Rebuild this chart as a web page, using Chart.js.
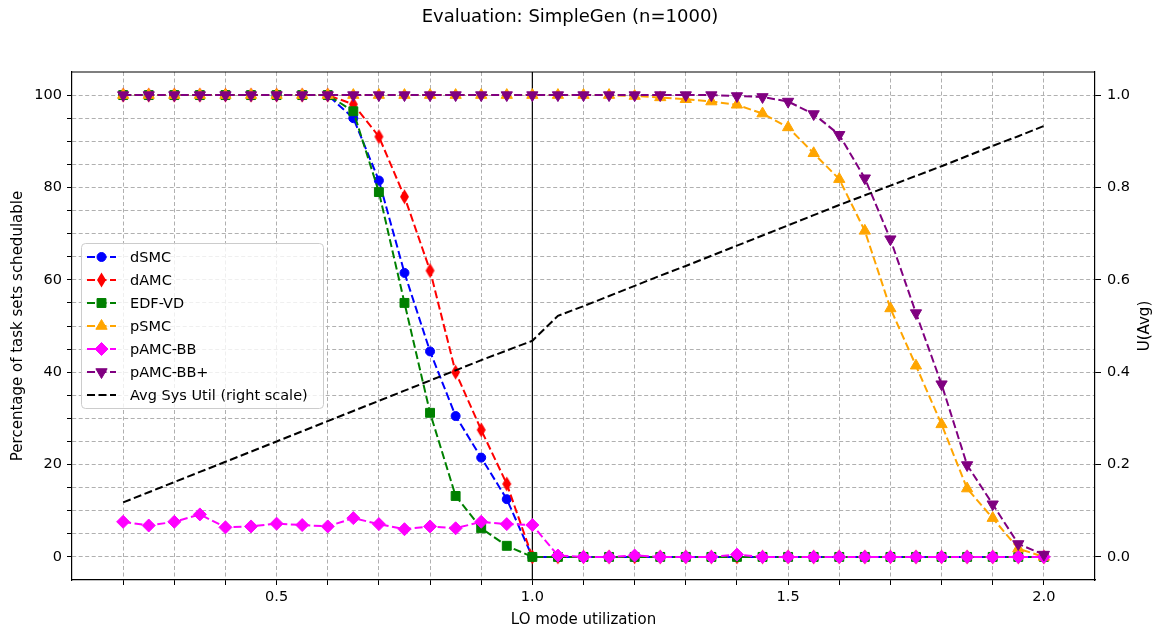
<!DOCTYPE html>
<html>
<head>
<meta charset="utf-8">
<title>Evaluation: SimpleGen (n=1000)</title>
<script src="https://cdn.jsdelivr.net/npm/chart.js@4.4.1/dist/chart.umd.min.js"></script>
<style>
  body { margin: 0; background: #fff; }
  canvas { display: block; }
</style>
</head>
<body>
<canvas id="evalChart" width="1165" height="636"></canvas>
<script>
// === Data ===
const utilization = [0.2, 0.25, 0.3, 0.35, 0.4, 0.45, 0.5, 0.55, 0.6, 0.65, 0.7, 0.75, 0.8, 0.85, 0.9, 0.95, 1.0,
  1.05, 1.1, 1.15, 1.2, 1.25, 1.3, 1.35, 1.4, 1.45, 1.5, 1.55, 1.6, 1.65, 1.7, 1.75, 1.8, 1.85, 1.9, 1.95, 2.0];

const dSMC = [100, 100, 100, 100, 100, 100, 100, 100, 100, 95, 81.5, 61.5, 44.5, 30.5, 21.5, 12.5, 0,
  0, 0, 0, 0, 0, 0, 0, 0, 0, 0, 0, 0, 0, 0, 0, 0, 0, 0, 0, 0];
const dAMC = [100, 100, 100, 100, 100, 100, 100, 100, 100, 98, 91, 78, 62, 40, 27.5, 15.8, 0,
  0, 0, 0, 0, 0, 0, 0, 0, 0, 0, 0, 0, 0, 0, 0, 0, 0, 0, 0, 0];
const edfVD = [100, 100, 100, 100, 100, 100, 100, 100, 100, 96.5, 79, 55, 31.2, 13.2, 6.2, 2.4, 0,
  0, 0, 0, 0, 0, 0, 0, 0, 0, 0, 0, 0, 0, 0, 0, 0, 0, 0, 0, 0];
const pSMC = [100, 100, 100, 100, 100, 100, 100, 100, 100, 100, 100, 100, 100, 100, 100, 100, 100,
  100, 100, 100, 99.8, 99.5, 99.1, 98.6, 97.9, 96, 93, 87.4, 81.8, 70.6, 53.8, 41.4, 28.7, 14.8, 8.4, 1.8, 0];
const pAMCBB = [7.6, 6.8, 7.6, 9.2, 6.4, 6.6, 7.2, 6.9, 6.6, 8.4, 7.1, 6.0, 6.6, 6.2, 7.6, 7.1, 6.9,
  0.3, 0, 0, 0.3, 0, 0, 0, 0.5, 0, 0, 0, 0, 0, 0, 0, 0, 0, 0, 0, 0];
const pAMCBBplus = [100, 100, 100, 100, 100, 100, 100, 100, 100, 100, 100, 100, 100, 100, 100, 100, 100,
  100, 100, 100, 100, 100, 100, 100, 99.8, 99.6, 98.6, 95.9, 91.4, 82, 68.8, 52.8, 37.4, 19.9, 11.4, 2.8, 0.5];
// average system utilisation, right scale
const avgUtil = [0.118, 0.140, 0.162, 0.184, 0.206, 0.228, 0.250, 0.272, 0.294, 0.316, 0.338, 0.360, 0.382,
  0.404, 0.426, 0.447, 0.468, 0.522, 0.543, 0.565, 0.587, 0.609, 0.630, 0.652, 0.674, 0.696, 0.718, 0.740,
  0.762, 0.783, 0.804, 0.825, 0.846, 0.868, 0.890, 0.911, 0.933];

const xTicks = [0.2, 0.3, 0.4, 0.5, 0.6, 0.7, 0.8, 0.9, 1.0, 1.1, 1.2, 1.3, 1.4, 1.5, 1.6, 1.7, 1.8, 1.9, 2.0];
const xLabelled = [0.5, 1.0, 1.5, 2.0];
const yTicks = [0, 5, 10, 15, 20, 25, 30, 35, 40, 45, 50, 55, 60, 65, 70, 75, 80, 85, 90, 95, 100];
const yLabelled = [0, 20, 40, 60, 80, 100];
const y1Ticks = [0, 0.2, 0.4, 0.6, 0.8, 1.0];
const cutoff = 1.0;

const FONT = 'DejaVu Sans';
const DASH = [8, 3.5];

// thin diamond marker (not built into Chart.js)
function thinDiamond(color) {
  const c = document.createElement('canvas');
  c.width = 11; c.height = 16;
  const g = c.getContext('2d');
  g.fillStyle = color;
  g.beginPath();
  g.moveTo(5.5, 0.5); g.lineTo(10, 8); g.lineTo(5.5, 15.5); g.lineTo(1, 8);
  g.closePath();
  g.fill();
  return c;
}

function series(label, values, color, extra) {
  return Object.assign({
    label: label,
    data: utilization.map((u, i) => ({ x: u, y: values[i] })),
    borderColor: color,
    backgroundColor: color,
    borderWidth: 2,
    borderDash: DASH,
    pointRadius: 4.5,
    pointBorderWidth: 1,
    pointBackgroundColor: color,
    pointBorderColor: color,
    tension: 0,
    yAxisID: 'y'
  }, extra);
}

const datasets = [
  series('dSMC', dSMC, '#0000ff', { pointStyle: 'circle', order: 6 }),
  series('dAMC', dAMC, '#ff0000', { pointStyle: thinDiamond('#ff0000'), order: 5 }),
  series('EDF-VD', edfVD, '#008000', { pointStyle: 'rect', pointRadius: 6.3, order: 4 }),
  series('pSMC', pSMC, '#ffa500', { pointStyle: 'triangle', pointRadius: 6.5, order: 3 }),
  series('pAMC-BB', pAMCBB, '#ff00ff', { pointStyle: 'rectRot', pointRadius: 6.5, order: 2 }),
  series('pAMC-BB+', pAMCBBplus, '#800080', { pointStyle: 'triangle', pointRotation: 180, pointRadius: 6.5, order: 1 }),
  series('Avg Sys Util (right scale)', avgUtil, '#000000', { pointRadius: 0, yAxisID: 'y1', order: 0 })
];

// === Extra drawing: vertical marker, top spine, titles, legend ===
const decor = {
  id: 'decor',
  beforeDatasetsDraw(chart) {
    const { ctx, chartArea, scales } = chart;
    const x = scales.x.getPixelForValue(cutoff);
    ctx.save();
    ctx.strokeStyle = '#000';
    ctx.lineWidth = 1.2;
    ctx.beginPath();
    ctx.moveTo(x, chartArea.top);
    ctx.lineTo(x, chartArea.bottom);
    ctx.stroke();
    ctx.restore();
  },
  afterDraw(chart) {
    const { ctx, chartArea } = chart;
    ctx.save();
    // top spine
    ctx.strokeStyle = '#000';
    ctx.lineWidth = 1.2;
    ctx.beginPath();
    ctx.moveTo(chartArea.left, chartArea.top);
    ctx.lineTo(chartArea.right, chartArea.top);
    ctx.stroke();

    // title
    ctx.fillStyle = '#000';
    ctx.font = '18px "' + FONT + '"';
    ctx.textAlign = 'center';
    ctx.textBaseline = 'alphabetic';
    ctx.fillText('Evaluation: SimpleGen (n=1000)', 570, 22);

    // right axis title, reading bottom to top
    ctx.save();
    ctx.font = '15px "' + FONT + '"';
    ctx.textBaseline = 'middle';
    ctx.translate(1145, (chartArea.top + chartArea.bottom) / 2);
    ctx.rotate(-Math.PI / 2);
    ctx.fillText('U(Avg)', 0, 0);
    ctx.restore();

    // legend box
    const bx = 81, by = 243, bw = 242, bh = 165;
    ctx.fillStyle = 'rgba(255,255,255,0.8)';
    ctx.strokeStyle = '#cccccc';
    ctx.lineWidth = 1;
    ctx.beginPath();
    ctx.roundRect(bx + 0.5, by + 0.5, bw, bh, 4);
    ctx.fill();
    ctx.stroke();

    ctx.font = '14.5px "' + FONT + '"';
    ctx.textAlign = 'left';
    ctx.textBaseline = 'middle';
    chart.data.datasets.forEach((ds, i) => {
      const y = 257 + i * 23;
      ctx.save();
      ctx.strokeStyle = ds.borderColor;
      ctx.lineWidth = 2;
      ctx.setLineDash(DASH);
      ctx.beginPath();
      ctx.moveTo(87, y);
      ctx.lineTo(116, y);
      ctx.stroke();
      ctx.restore();
      if (ds.pointRadius > 0) {
        ctx.fillStyle = ds.borderColor;
        ctx.strokeStyle = ds.borderColor;
        ctx.lineWidth = 1;
        Chart.helpers.drawPoint(ctx, {
          pointStyle: ds.pointStyle,
          rotation: ds.pointRotation || 0,
          radius: ds.pointRadius,
          borderWidth: 1
        }, 101.5, y);
      }
      ctx.fillStyle = '#000';
      ctx.fillText(ds.label, 130, y + 1);
    });
    ctx.restore();
  }
};

const gridStyle = { color: '#b0b0b0', lineWidth: 1, tickColor: '#000', tickLength: 5 };
const borderStyle = { display: true, color: '#000', width: 1.2, dash: [4, 2.5] };
const tickFont = { family: FONT, size: 14.5 };
const titleFont = { family: FONT, size: 15 };

new Chart(document.getElementById('evalChart'), {
  type: 'line',
  data: { datasets: datasets },
  options: {
    responsive: false,
    animation: false,
    events: [],
    layout: { padding: { top: 72, left: 0, right: 0, bottom: 0 } },
    plugins: {
      legend: { display: false },
      title: { display: false },
      tooltip: { enabled: false }
    },
    scales: {
      x: {
        type: 'linear',
        min: 0.1,
        max: 2.1,
        afterBuildTicks: s => { s.ticks = xTicks.map(v => ({ value: v })); },
        afterFit: s => { s.height = 56; },
        grid: gridStyle,
        border: borderStyle,
        ticks: {
          autoSkip: false,
          maxRotation: 0,
          color: '#000',
          font: tickFont,
          padding: 4,
          callback: v => xLabelled.some(m => Math.abs(m - v) < 1e-6) ? v.toFixed(1) : ''
        },
        title: {
          display: true,
          text: 'LO mode utilization',
          color: '#000',
          font: titleFont,
          padding: { top: 0, bottom: 7 }
        }
      },
      y: {
        position: 'left',
        min: -5,
        max: 105,
        afterBuildTicks: s => { s.ticks = yTicks.map(v => ({ value: v })); },
        afterFit: s => { s.width = 72; },
        grid: gridStyle,
        border: borderStyle,
        ticks: {
          autoSkip: false,
          color: '#000',
          font: tickFont,
          padding: 5,
          callback: v => yLabelled.includes(v) ? String(v) : ''
        },
        title: {
          display: true,
          text: 'Percentage of task sets schedulable',
          color: '#000',
          font: titleFont,
          padding: { top: 9, bottom: 0 }
        }
      },
      y1: {
        position: 'right',
        min: -0.05,
        max: 1.05,
        afterBuildTicks: s => { s.ticks = y1Ticks.map(v => ({ value: v })); },
        afterFit: s => { s.width = 70; },
        grid: { drawOnChartArea: false, color: '#000', tickColor: '#000', tickLength: 6 },
        border: { display: true, color: '#000', width: 1.2 },
        ticks: {
          autoSkip: false,
          color: '#000',
          font: tickFont,
          padding: 6,
          callback: v => v.toFixed(1)
        }
      }
    }
  },
  plugins: [decor]
});
</script>
</body>
</html>
